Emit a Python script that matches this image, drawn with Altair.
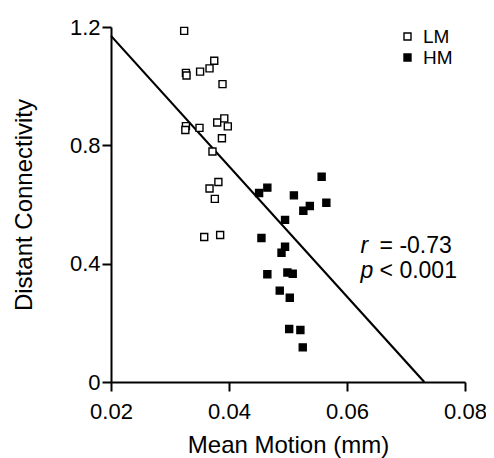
import altair as alt
import pandas as pd

# LM group (open squares)
lm_x = [0.0324, 0.0327, 0.0328, 0.0351, 0.0367, 0.0375, 0.0389, 0.0327, 0.0326, 0.0350,
        0.0380, 0.0392, 0.0398, 0.0388, 0.0372, 0.0382, 0.0367, 0.0376, 0.0358, 0.0385]
lm_y = [1.187, 1.045, 1.036, 1.049, 1.060, 1.086, 1.007, 0.865, 0.852, 0.859,
        0.877, 0.891, 0.864, 0.824, 0.779, 0.676, 0.654, 0.619, 0.490, 0.497]

# HM group (filled squares)
hm_x = [0.0557, 0.0451, 0.0465, 0.0510, 0.0537, 0.0526, 0.0565, 0.0495, 0.0455, 0.0495,
        0.0489, 0.0465, 0.0499, 0.0508, 0.0486, 0.0503, 0.0502, 0.0521, 0.0525]
hm_y = [0.694, 0.639, 0.657, 0.631, 0.595, 0.579, 0.606, 0.548, 0.487, 0.457,
        0.437, 0.364, 0.370, 0.366, 0.309, 0.285, 0.179, 0.176, 0.117]

# regression line end points
fit_x = [0.02, 0.0731]
fit_y = [1.170, 0.0]

# annotation
ann_italic = ["r", "p"]
ann_rest = ["= -0.73", "< 0.001"]
ann_x = [0.0623, 0.0623]
ann_y = [0.436, 0.352]

FONT = "Liberation Sans"

pts = pd.DataFrame({
    "x": lm_x + hm_x,
    "y": lm_y + hm_y,
    "group": ["LM"] * len(lm_x) + ["HM"] * len(hm_x),
})
fit = pd.DataFrame({"x": fit_x, "y": fit_y})
ann = pd.DataFrame({"x": ann_x, "y": ann_y, "it": ann_italic, "rest": ann_rest})

xscale = alt.Scale(domain=[0.02, 0.08], nice=False, zero=False)
yscale = alt.Scale(domain=[0, 1.2], nice=False)

xaxis = alt.Axis(title="Mean Motion (mm)", values=[0.02, 0.04, 0.06, 0.08], format=".2f",
                 grid=False, labelPadding=10, titlePadding=11, labelFlush=False)
yaxis = alt.Axis(title="Distant Connectivity", values=[0, 0.4, 0.8, 1.2],
                 labelExpr="datum.value == 0 ? '0' : format(datum.value, '.1f')",
                 grid=False, labelPadding=2, titlePadding=33, labelFlush=False)

line = alt.Chart(fit).mark_line(color="black", strokeWidth=2.2).encode(
    x=alt.X("x:Q", scale=xscale, axis=xaxis),
    y=alt.Y("y:Q", scale=yscale, axis=yaxis),
)

points = alt.Chart(pts).mark_point(shape="square", filled=True, size=49, stroke="black",
                                   strokeWidth=1.4, opacity=1).encode(
    x=alt.X("x:Q", scale=xscale),
    y=alt.Y("y:Q", scale=yscale),
    fill=alt.Fill("group:N", scale=alt.Scale(domain=["LM", "HM"], range=["white", "black"]),
                  legend=alt.Legend(title=None, orient="none", legendX=287, legendY=0,
                                    symbolType="square", symbolSize=49,
                                    symbolStrokeColor="black", symbolStrokeWidth=1.4,
                                    labelFont=FONT, labelFontSize=19, labelColor="black",
                                    labelOffset=6, rowPadding=1)),
)

t1 = alt.Chart(ann).mark_text(align="left", baseline="alphabetic", font=FONT, fontSize=23,
                              fontStyle="italic", color="black").encode(
    x=alt.X("x:Q", scale=xscale), y=alt.Y("y:Q", scale=yscale), text="it:N")
t2 = alt.Chart(ann).mark_text(align="left", baseline="alphabetic", font=FONT, fontSize=23,
                              dx=19, color="black").encode(
    x=alt.X("x:Q", scale=xscale), y=alt.Y("y:Q", scale=yscale), text="rest:N")

chart = alt.layer(line, points, t1, t2).properties(
    width=354, height=355,
    autosize=alt.AutoSizeParams(type="none"),
    padding={"left": 103, "top": 19, "right": 21, "bottom": 76},
).configure_view(stroke=None).configure_axis(
    domainColor="black", domainWidth=2, tickColor="black", tickWidth=2, tickSize=9,
    labelFont=FONT, labelFontSize=22, labelColor="black",
    titleFont=FONT, titleFontSize=24, titleFontWeight="normal", titleColor="black",
)

chart.save("out.html", embed_options={"renderer": "svg", "actions": False})
